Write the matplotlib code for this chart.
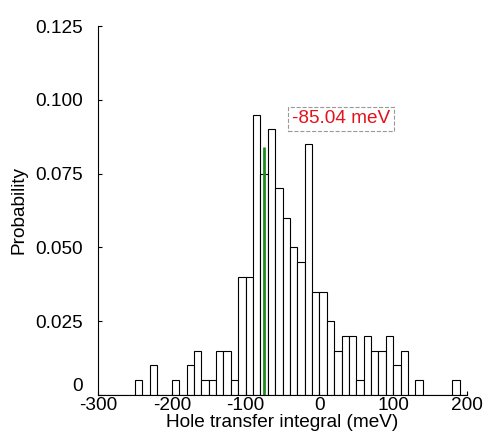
import matplotlib
matplotlib.use("Agg")
import matplotlib.pyplot as plt
import numpy as np

plt.rcParams['font.family'] = ['Liberation Sans', 'DejaVu Sans']
plt.rcParams['font.size'] = 13.7
plt.rcParams['axes.unicode_minus'] = False

# Histogram of hole transfer integrals, 10 meV bins
bin_left = np.arange(-300, 200, 10)
prob = np.zeros(len(bin_left))
filled = {
    -250: 0.005, -230: 0.010, -200: 0.005, -180: 0.010, -170: 0.015,
    -160: 0.005, -150: 0.005, -140: 0.015, -130: 0.015, -120: 0.005,
    -110: 0.040, -100: 0.040, -90: 0.095, -80: 0.075, -70: 0.090,
    -60: 0.070, -50: 0.060, -40: 0.050, -30: 0.045, -20: 0.085,
    -10: 0.035, 0: 0.035, 10: 0.025, 20: 0.015, 30: 0.020,
    40: 0.020, 50: 0.005, 60: 0.020, 70: 0.015, 80: 0.015,
    90: 0.020, 100: 0.010, 110: 0.015, 130: 0.005, 180: 0.005,
}
for left, p in filled.items():
    prob[np.where(bin_left == left)[0][0]] = p

# Marker line and its label
marker_x = -75
marker_h = 0.084
label_text = '-85.04 meV'
label_pos = (29, 0.0935)

xticks = [-300, -200, -100, 0, 100, 200]
yticks = [0, 0.025, 0.050, 0.075, 0.100, 0.125]
ytick_labels = ['0', '0.025', '0.050', '0.075', '0.100', '0.125']

fig = plt.figure(figsize=(4.85, 4.43), dpi=100)
ax = fig.add_axes([0.202, 0.1084, 0.761, 0.8329])

ax.bar(bin_left, prob, width=10, align='edge', facecolor='white',
       edgecolor='black', linewidth=0.8)
ax.vlines(marker_x, 0, marker_h, color='#1e8c1e', linewidth=2)

ax.text(label_pos[0], label_pos[1], label_text, color='#e3121b',
        ha='center', va='center',
        bbox=dict(boxstyle='square,pad=0.2', facecolor='white',
                  edgecolor='#999999', linestyle='--', linewidth=0.8))

ax.set_xlim(-300, 200)
ax.set_ylim(0, 0.125)
ax.set_xticks(xticks)
ax.set_yticks(yticks)
ax.set_yticklabels(ytick_labels)
ax.spines['top'].set_visible(False)
ax.spines['right'].set_visible(False)
ax.tick_params(direction='in', length=3, width=0.8)
ax.tick_params(axis='y', pad=11)
ax.tick_params(axis='x', pad=1.5)

# lift the "0" so it clears the "-300"
ax.get_yticklabels()[0].set_verticalalignment('bottom')

ax.set_xlabel('Hole transfer integral (meV)', labelpad=0)
ax.set_ylabel('Probability', labelpad=5)

fig.savefig('out.png', dpi=100)
